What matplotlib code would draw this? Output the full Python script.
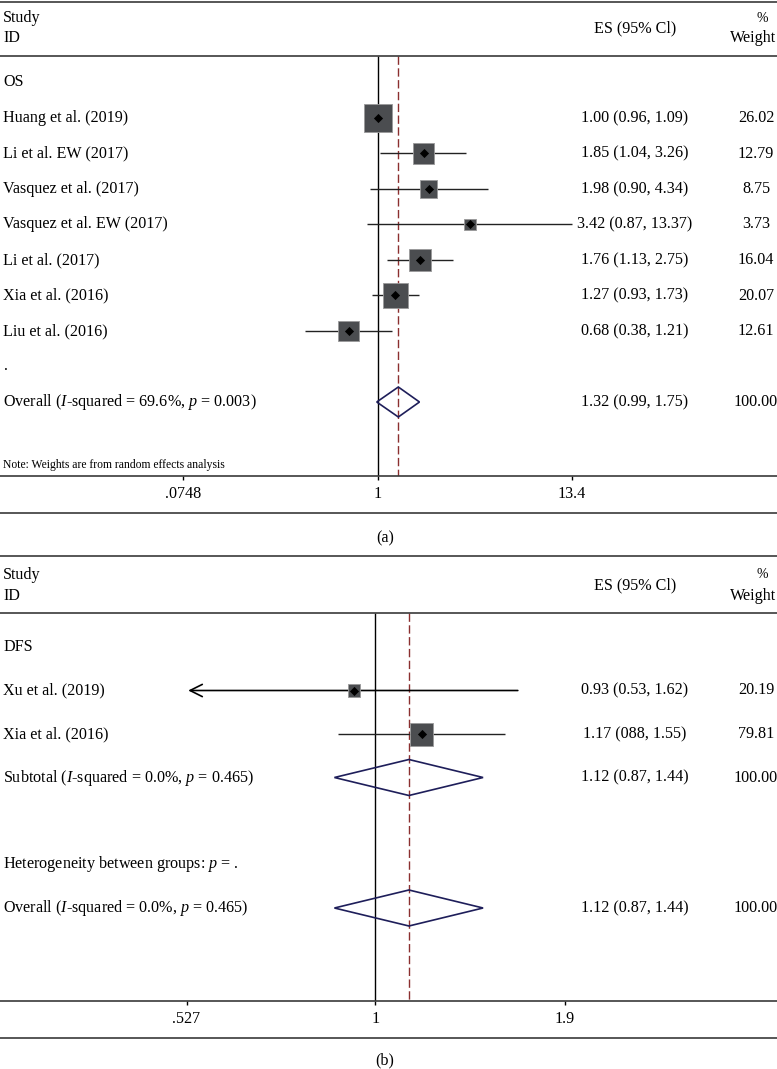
import numpy as np
import matplotlib
matplotlib.use("Agg")
import matplotlib.pyplot as plt
from matplotlib.lines import Line2D
from matplotlib.ticker import NullLocator, FixedLocator, FixedFormatter

# ---------------- data ----------------
a_studies = ["Huang et al. (2019)", "Li et al. EW (2017)", "Vasquez et al. (2017)",
             "Vasquez et al. EW (2017)", "Li et al. (2017)", "Xia et al. (2016)",
             "Liu et al. (2016)"]
a_es = [1.00, 1.85, 1.98, 3.42, 1.76, 1.27, 0.68]
a_lo = [0.96, 1.04, 0.90, 0.87, 1.13, 0.93, 0.38]
a_hi = [1.09, 3.26, 4.34, 13.37, 2.75, 1.73, 1.21]
a_weight = [26.02, 12.79, 8.75, 3.73, 16.04, 20.07, 12.61]
a_overall = [1.32, 0.99, 1.75]
a_overall_label = r"Overall ($I$-squared = 69.6%, $p$ = 0.003)"
a_ticks = [0.0748, 1, 13.4]
a_ticklabels = [".0748", "1", "13.4"]

b_studies = ["Xu et al. (2019)", "Xia et al. (2016)"]
b_es = [0.93, 1.17]
b_lo = [0.53, 0.88]
b_hi = [1.62, 1.55]
b_weight = [20.19, 79.81]
b_es_text = ["0.93 (0.53, 1.62)", "1.17 (088, 1.55)"]
b_subtotal = [1.12, 0.87, 1.44]
b_overall = [1.12, 0.87, 1.44]
b_subtotal_label = r"Subtotal ($I$-squared = 0.0%, $p$ = 0.465)"
b_het_label = r"Heterogeneity between groups: $p$ = ."
b_overall_label = r"Overall ($I$-squared = 0.0%, $p$ = 0.465)"
b_ticks = [0.527, 1, 1.9]
b_ticklabels = [".527", "1", "1.9"]

# ---------------- style ----------------
FONT = "Liberation Serif"
plt.rcParams["font.family"] = [FONT, "DejaVu Serif"]
plt.rcParams["mathtext.fontset"] = "custom"
plt.rcParams["mathtext.rm"] = FONT
plt.rcParams["mathtext.it"] = FONT + ":italic"
FS = 11.6
LINE_C = "#3a3a3a"
BOX_C = "#4b4d50"
DIAM_C = "#1e1e5a"
DASH_C = "#8b2f2f"
ES_X = 635
WT_X = 756

W, H = 777, 1069
fig = plt.figure(figsize=(W / 100, H / 100), dpi=100)
fig.patch.set_facecolor("white")


def fy(px):
    return 1 - px / H


def make_panel(top_px, header_px, axis_px, bottom_px, px_one, px_per_ln):
    ax = fig.add_axes([0, fy(axis_px), 1, (axis_px - top_px) / H])
    ax.set_xscale("log")
    ax.set_xlim(np.exp(-px_one / px_per_ln), np.exp((W - px_one) / px_per_ln))
    ax.set_ylim(axis_px, top_px)
    for s in ["left", "right"]:
        ax.spines[s].set_visible(False)
    for s in ["top", "bottom"]:
        ax.spines[s].set_color(LINE_C)
        ax.spines[s].set_linewidth(1.2)
    ax.axhline(header_px, color=LINE_C, lw=1.2)
    ax.set_yticks([])
    ax.xaxis.set_minor_locator(NullLocator())
    ax.tick_params(axis="x", direction="out", length=3, width=1.0,
                   color="black", pad=4, labelsize=FS)
    fig.add_artist(Line2D([0, 1], [fy(bottom_px)] * 2, transform=fig.transFigure,
                          color=LINE_C, lw=1.2))
    return ax


def header(ax, y_study, y_id):
    tr = ax.get_yaxis_transform()
    ax.text(3 / W, y_study, "Study", transform=tr, ha="left", va="center", fontsize=FS)
    ax.text(3 / W, y_id, "ID", transform=tr, ha="left", va="center", fontsize=FS)
    ax.text(ES_X / W, (y_study + y_id) / 2, "ES (95% Cl)", transform=tr, ha="center",
            va="center", fontsize=FS)
    ax.text(762 / W, y_study, "%", transform=tr, ha="center", va="center", fontsize=FS * 0.85)
    ax.text(776 / W, y_id, "Weight", transform=tr, ha="right", va="center", fontsize=FS)


def studies(ax, labels, es, lo, hi, w, ys, es_text, side_max, arrow_left=None):
    tr = ax.get_yaxis_transform()
    wmax = max(w)
    for i in range(len(labels)):
        if arrow_left is not None and arrow_left[i]:
            ax.annotate("", xy=(lo[i], ys[i]), xytext=(hi[i], ys[i]),
                        arrowprops=dict(arrowstyle="->", lw=1.2, color="black",
                                        mutation_scale=22, shrinkA=0, shrinkB=0),
                        zorder=2)
        else:
            ax.hlines(ys[i], lo[i], hi[i], color="#222222", lw=1.0, zorder=2)
    sides = [side_max * (v / wmax) ** 0.45 for v in w]
    ax.scatter(es, ys, marker="s", s=[(sd * 0.72) ** 2 for sd in sides], c=BOX_C,
               edgecolors="#9a9a9a", linewidths=0.6, zorder=3)
    ax.scatter(es, ys, marker="D", s=(6.5 * 0.72) ** 2, c="black", zorder=4, linewidths=0)
    for i in range(len(labels)):
        ax.text(3 / W, ys[i], labels[i], transform=tr, ha="left", va="center", fontsize=FS)
        ax.text(ES_X / W, ys[i], es_text[i], transform=tr, ha="center", va="center", fontsize=FS)
        ax.text(WT_X / W, ys[i], f"{w[i]:.2f}", transform=tr, ha="center", va="center", fontsize=FS)


def pooled(ax, label, vals, y, h):
    tr = ax.get_yaxis_transform()
    est, lo, hi = vals
    ax.fill([lo, est, hi, est], [y, y - h, y, y + h], fill=False, edgecolor=DIAM_C,
            lw=1.2, zorder=5)
    ax.text(3 / W, y, label, transform=tr, ha="left", va="center", fontsize=FS)
    ax.text(ES_X / W, y, f"{est:.2f} ({lo:.2f}, {hi:.2f})", transform=tr, ha="center",
            va="center", fontsize=FS)
    ax.text(WT_X / W, y, "100.00", transform=tr, ha="center", va="center", fontsize=FS)


# ---------------- panel (a) ----------------
top_a, head_a, axis_a, bottom_a = 1.5, 56, 476, 513
axa = make_panel(top_a, head_a, axis_a, bottom_a, 377.5, 75.0)
axa.xaxis.set_major_locator(FixedLocator(a_ticks))
axa.xaxis.set_major_formatter(FixedFormatter(a_ticklabels))
header(axa, 18, 38)
a_step = 35.5
a_y0 = 118
tr = axa.get_yaxis_transform()
axa.text(3 / W, a_y0 - a_step, "OS", transform=tr, ha="left", va="center", fontsize=FS)
a_ys = [a_y0 + a_step * i for i in range(len(a_studies))]
axa.vlines(1, head_a, axis_a, color="black", lw=1.0, zorder=1)
axa.vlines(a_overall[0], head_a, axis_a, color=DASH_C, lw=1.0,
           linestyles=(0, (6, 2.5)), zorder=1)
studies(axa, a_studies, a_es, a_lo, a_hi, a_weight, a_ys,
        [f"{e:.2f} ({l:.2f}, {h:.2f})" for e, l, h in zip(a_es, a_lo, a_hi)], 28)
axa.text(4 / W, a_y0 + a_step * 7, ".", transform=tr, ha="left", va="center", fontsize=FS)
pooled(axa, a_overall_label, a_overall, a_y0 + a_step * 8, 15)
axa.text(3 / W, 465, "Note: Weights are from random effects analysis", transform=tr,
         ha="left", va="center", fontsize=8.4)
fig.text(385 / W, fy(538), "(a)", ha="center", va="center", fontsize=FS)

# ---------------- panel (b) ----------------
top_b, head_b, axis_b, bottom_b = 556, 613, 1001, 1038
axb = make_panel(top_b, head_b, axis_b, bottom_b, 375.5, 295.0)
axb.xaxis.set_major_locator(FixedLocator(b_ticks))
axb.xaxis.set_major_formatter(FixedFormatter(b_ticklabels))
header(axb, 575, 596)
b_step = 43.5
b_y0 = 690.5
trb = axb.get_yaxis_transform()
axb.text(3 / W, b_y0 - b_step, "DFS", transform=trb, ha="left", va="center", fontsize=FS)
b_ys = [b_y0 + b_step * i for i in range(len(b_studies))]
axb.vlines(1, head_b, axis_b, color="black", lw=1.0, zorder=1)
axb.vlines(b_overall[0], head_b, axis_b, color=DASH_C, lw=1.0,
           linestyles=(0, (6, 2.5)), zorder=1)
studies(axb, b_studies, b_es, b_lo, b_hi, b_weight, b_ys, b_es_text, 23,
        arrow_left=[True, False])
pooled(axb, b_subtotal_label, b_subtotal, b_y0 + b_step * 2, 18)
axb.text(3 / W, b_y0 + b_step * 4, b_het_label, transform=trb, ha="left", va="center",
         fontsize=FS)
pooled(axb, b_overall_label, b_overall, b_y0 + b_step * 5, 18)
fig.text(385 / W, fy(1060), "(b)", ha="center", va="center", fontsize=FS)

fig.savefig("out.png", dpi=100, facecolor="white")
